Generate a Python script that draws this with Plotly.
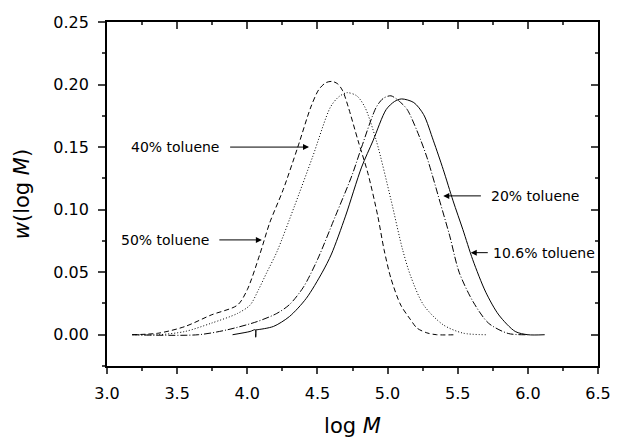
import plotly.graph_objects as go

# 50% toluene (dashed)
x50 = [3.18, 3.37, 3.557, 3.743, 3.93, 4.0, 4.09, 4.16, 4.256, 4.36, 4.453, 4.51, 4.56, 4.605,
       4.645, 4.68, 4.72, 4.79, 4.86, 4.93, 4.975, 5.024, 5.094, 5.164, 5.21, 5.28, 5.35, 5.49]
y50 = [0.0, 0.0013, 0.0066, 0.0158, 0.0237, 0.036, 0.0645, 0.0895, 0.116, 0.150, 0.182, 0.196, 0.2015, 0.2025,
       0.2005, 0.195, 0.182, 0.155, 0.129, 0.095, 0.068, 0.045, 0.0237, 0.0120, 0.0053, 0.0015, 0.0, 0.0]

# 40% toluene (dotted)
x40 = [3.18, 3.37, 3.557, 3.743, 3.93, 4.02, 4.08, 4.14, 4.21, 4.337, 4.465, 4.593, 4.65, 4.71,
       4.78, 4.838, 4.92, 5.024, 5.106, 5.164, 5.257, 5.397, 5.537, 5.70]
y40 = [0.0, 0.0, 0.0026, 0.0092, 0.017, 0.0237, 0.036, 0.050, 0.066, 0.103, 0.142, 0.182, 0.190, 0.1935,
       0.191, 0.182, 0.155, 0.108, 0.0685, 0.047, 0.0237, 0.0079, 0.0013, 0.0]

# 20% toluene (dash-dot)
x20 = [3.18, 3.65, 3.86, 4.07, 4.21, 4.30, 4.40, 4.50, 4.628, 4.745, 4.815, 4.92, 4.97, 5.024, 5.094,
       5.14, 5.21, 5.28, 5.374, 5.443, 5.51, 5.61, 5.72, 5.86, 6.0]
y20 = [0.0, 0.0, 0.004, 0.0105, 0.017, 0.024, 0.038, 0.060, 0.0948, 0.127, 0.150, 0.182, 0.189, 0.191, 0.1856,
       0.180, 0.163, 0.142, 0.106, 0.079, 0.050, 0.0263, 0.0092, 0.001, 0.0]

# 10.6% toluene (solid)
x10 = [3.895, 4.02, 4.058, 4.06, 4.063, 4.07, 4.186, 4.30, 4.42, 4.535, 4.60, 4.70, 4.815, 4.896, 4.99,
       5.05, 5.10, 5.187, 5.257, 5.327, 5.397, 5.467, 5.537, 5.607, 5.70, 5.793, 5.91, 6.0, 6.12]
y10 = [0.0, 0.0026, 0.004, -0.002, 0.004, 0.004, 0.0066, 0.0145, 0.029, 0.050, 0.0645, 0.0948, 0.134, 0.155, 0.180,
       0.1865, 0.1885, 0.1856, 0.176, 0.155, 0.132, 0.107, 0.084, 0.060, 0.034, 0.0158, 0.0026, 0.0, 0.0]

labels = ["50% toluene", "40% toluene", "20% toluene", "10.6% toluene"]

FONT = "DejaVu Sans"
fig = go.Figure()
styles = [("5px,3px", x50, y50), ("1px,2px", x40, y40), ("7px,2px,1px,2px", x20, y20), ("solid", x10, y10)]
for (dash, xs, ys), name in zip(styles, labels):
    fig.add_trace(go.Scatter(x=xs, y=ys, mode="lines", name=name,
                             line=dict(color="black", width=1, dash=dash, shape="spline", smoothing=0.8),
                             showlegend=False))

# dummy trace for the mirrored top/right axes
fig.add_trace(go.Scatter(x=[3.0], y=[0.0], xaxis="x2", yaxis="y2", mode="markers",
                         marker=dict(opacity=0), showlegend=False, hoverinfo="skip"))

xr = [3.0, 6.5]
yr = [-0.025, 0.25]
fig.update_layout(
    width=623, height=446,
    margin=dict(l=107, r=15, t=22, b=74),
    plot_bgcolor="white", paper_bgcolor="white",
    font=dict(family=FONT, color="black"),
    xaxis=dict(range=xr, dtick=0.5, tick0=3.0, tickformat=".1f", ticks="outside", ticklen=6, tickwidth=1.5,
               showline=True, linewidth=1.8, linecolor="black", showgrid=False, zeroline=False,
               tickfont=dict(size=16, family=FONT), ticklabelstandoff=6,
               minor=dict(dtick=0.25, ticks="outside", ticklen=3, tickwidth=1.5),
               title=dict(text="log <i>M</i>", font=dict(size=21, family=FONT), standoff=16)),
    yaxis=dict(range=yr, dtick=0.05, tick0=0.0, tickformat=".2f", ticks="outside", ticklen=7, tickwidth=1.5,
               showline=True, linewidth=1.8, linecolor="black", showgrid=False, zeroline=False,
               tickfont=dict(size=16, family=FONT), ticklabelstandoff=6,
               minor=dict(dtick=0.025, ticks="outside", ticklen=3, tickwidth=1.5),
               title=dict(text="<i>w</i>(log <i>M</i>)", font=dict(size=21, family=FONT), standoff=18)),
    xaxis2=dict(range=xr, overlaying="x", side="top", anchor="y", dtick=0.5, tick0=3.0, ticks="inside",
                ticklen=7, tickwidth=1.5, showticklabels=False, showline=True, linewidth=1.8,
                linecolor="black", showgrid=False, zeroline=False,
                minor=dict(dtick=0.25, ticks="inside", ticklen=3.5, tickwidth=1.5)),
    yaxis2=dict(range=yr, overlaying="y", side="right", anchor="x", dtick=0.05, tick0=0.0, ticks="inside",
                ticklen=7, tickwidth=1.5, showticklabels=False, showline=True, linewidth=1.8,
                linecolor="black", showgrid=False, zeroline=False,
                minor=dict(dtick=0.025, ticks="inside", ticklen=3.5, tickwidth=1.5)),
)

# label texts and arrows (tip, tail in data coordinates)
ann_font = dict(size=14, family=FONT, color="black")
texts = [
    ("40% toluene", 3.81, 0.150, "right"),
    ("50% toluene", 3.74, 0.0758, "right"),
    ("20% toluene", 5.725, 0.111, "left"),
    ("10.6% toluene", 5.74, 0.0656, "left"),
]
for t, x, y, anc in texts:
    fig.add_annotation(x=x, y=y, text=t, showarrow=False, xanchor=anc, yanchor="middle", font=ann_font)

arrows = [
    (4.44, 0.150, 3.867, 0.150),
    (4.104, 0.0758, 3.79, 0.0758),
    (5.397, 0.111, 5.676, 0.111),
    (5.593, 0.0656, 5.725, 0.0656),
]
for x, y, axv, ayv in arrows:
    fig.add_annotation(x=x, y=y, ax=axv, ay=ayv, axref="x", ayref="y", text="", showarrow=True,
                       arrowhead=2, arrowsize=1.2, arrowwidth=1, arrowcolor="black", standoff=0)

fig.write_html("out.html")
